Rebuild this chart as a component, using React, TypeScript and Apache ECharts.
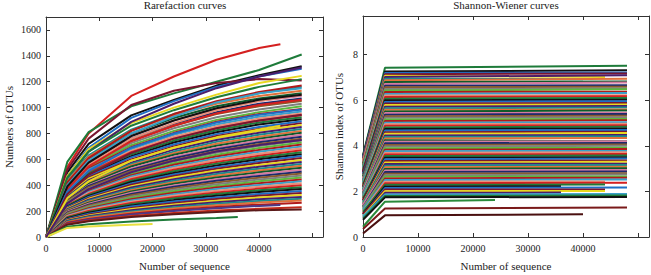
import React, { useEffect, useRef } from 'react';
import * as echarts from 'echarts';

// Rarefaction: sample depths of the grid; each curve = [last depth, values at grid depths (< last) + last depth]
const rareGridX = [0, 4000, 8000, 16000, 24000, 32000, 40000, 48000];
const rareCurves: [number, number[]][] = [
  [44000, [0, 540, 800, 1090, 1240, 1370, 1460, 1490]],
  [48000, [0, 580, 810, 1010, 1110, 1200, 1290, 1410]],
  [48000, [0, 500, 720, 940, 1060, 1170, 1250, 1320]],
  [48000, [0, 470, 690, 920, 1050, 1160, 1240, 1300]],
  [48000, [0, 520, 760, 1020, 1130, 1190, 1220, 1210]],
  [48000, [0, 470, 680, 880, 1000, 1100, 1190, 1245]],
  [48000, [0, 450, 660, 890, 1030, 1150, 1240, 1310]],
  [48000, [0, 440, 630, 830, 950, 1040, 1110, 1160]],
  [48000, [0, 430, 620, 820, 940, 1030, 1090, 1130]],
  [48000, [0, 420, 600, 800, 920, 1010, 1070, 1110]],
  [48000, [0, 410, 590, 780, 900, 990, 1050, 1090]],
  [48000, [0, 400, 575, 760, 875, 965, 1030, 1070]],
  [48000, [0, 395, 565, 745, 860, 950, 1010, 1050]],
  [48000, [0, 385, 550, 725, 840, 925, 985, 1030]],
  [48000, [0, 380, 540, 710, 820, 905, 965, 1010]],
  [48000, [0, 370, 530, 695, 805, 890, 950, 990]],
  [48000, [0, 360, 520, 680, 790, 870, 930, 970]],
  [48000, [0, 355, 510, 665, 775, 855, 915, 955]],
  [48000, [0, 350, 500, 655, 760, 840, 900, 940]],
  [48000, [0, 345, 490, 640, 745, 825, 885, 925]],
  [48000, [0, 335, 480, 625, 730, 810, 870, 910]],
  [48000, [0, 330, 470, 615, 715, 795, 850, 895]],
  [48000, [0, 325, 460, 600, 700, 780, 835, 880]],
  [48000, [0, 320, 450, 590, 690, 765, 820, 865]],
  [48000, [0, 310, 440, 575, 675, 750, 805, 850]],
  [48000, [0, 305, 430, 565, 660, 735, 790, 835]],
  [48000, [0, 300, 420, 555, 648, 720, 775, 820]],
  [48000, [0, 295, 410, 545, 635, 705, 760, 805]],
  [48000, [0, 290, 400, 530, 620, 690, 745, 790]],
  [48000, [0, 285, 395, 520, 608, 678, 732, 775]],
  [48000, [0, 280, 385, 510, 595, 665, 718, 760]],
  [48000, [0, 270, 375, 500, 583, 650, 703, 745]],
  [48000, [0, 265, 365, 488, 570, 636, 688, 730]],
  [48000, [0, 260, 355, 478, 558, 622, 673, 715]],
  [48000, [0, 255, 348, 468, 545, 608, 658, 700]],
  [48000, [0, 250, 340, 456, 533, 595, 644, 685]],
  [48000, [0, 245, 332, 446, 520, 580, 628, 670]],
  [48000, [0, 240, 325, 435, 508, 567, 614, 655]],
  [48000, [0, 235, 318, 425, 495, 553, 600, 640]],
  [48000, [0, 230, 310, 414, 483, 540, 585, 625]],
  [48000, [0, 225, 302, 404, 471, 527, 571, 610]],
  [48000, [0, 220, 295, 393, 459, 513, 557, 595]],
  [48000, [0, 215, 288, 383, 447, 500, 543, 580]],
  [48000, [0, 210, 280, 372, 435, 487, 528, 565]],
  [48000, [0, 205, 272, 362, 423, 473, 514, 550]],
  [48000, [0, 200, 265, 352, 411, 460, 500, 535]],
  [48000, [0, 195, 258, 342, 399, 447, 486, 520]],
  [48000, [0, 190, 250, 332, 388, 434, 472, 505]],
  [48000, [0, 185, 243, 322, 376, 421, 458, 490]],
  [48000, [0, 180, 236, 312, 365, 408, 444, 475]],
  [48000, [0, 175, 229, 302, 353, 395, 430, 460]],
  [48000, [0, 170, 222, 292, 342, 383, 416, 445]],
  [48000, [0, 165, 215, 283, 331, 370, 402, 430]],
  [48000, [0, 160, 208, 273, 319, 357, 388, 415]],
  [48000, [0, 155, 201, 263, 308, 344, 374, 400]],
  [48000, [0, 150, 194, 254, 297, 332, 361, 385]],
  [48000, [0, 145, 187, 244, 285, 319, 347, 370]],
  [48000, [0, 140, 180, 235, 274, 306, 333, 355]],
  [48000, [0, 135, 173, 225, 263, 294, 319, 340]],
  [48000, [0, 130, 166, 216, 252, 281, 305, 325]],
  [48000, [0, 125, 160, 207, 241, 269, 292, 310]],
  [48000, [0, 120, 154, 198, 230, 257, 278, 295]],
  [48000, [0, 115, 148, 190, 220, 246, 266, 282]],
  [48000, [0, 110, 140, 180, 208, 232, 250, 265]],
  [44000, [0, 105, 136, 174, 200, 222, 240, 248]],
  [48000, [0, 100, 128, 162, 185, 204, 218, 230]],
  [48000, [0, 95, 122, 154, 176, 194, 207, 212]],
  [36000, [0, 80, 98, 120, 135, 147, 155]],
  [20000, [0, 70, 82, 95, 100]],
  [48000, [0, 420, 610, 820, 950, 1050, 1120, 1170]],
  [48000, [0, 400, 590, 800, 930, 1040, 1110, 1150]],
  [48000, [0, 380, 560, 760, 880, 980, 1050, 1100]],
  [48000, [0, 370, 545, 740, 860, 955, 1020, 1060]],
  [48000, [0, 460, 660, 860, 980, 1080, 1160, 1220]],
  [48000, [0, 390, 575, 780, 900, 995, 1060, 1100]],
  [48000, [0, 350, 510, 690, 800, 885, 945, 985]],
  [48000, [0, 330, 480, 650, 760, 840, 900, 945]],
  [44000, [0, 300, 430, 590, 690, 770, 830, 860]],
  [48000, [0, 260, 370, 500, 590, 660, 710, 750]],
];

// Shannon-Wiener: [index at 0, index at 4000, index at last depth, last depth]
const swCurves: [number, number, number, number][] = [
  [3.60, 7.43, 7.52, 48000], [3.55, 7.26, 7.32, 48000], [3.50, 7.20, 7.22, 48000],
  [3.45, 7.14, 7.18, 48000], [3.40, 7.08, 7.02, 44000], [3.45, 7.02, 7.10, 48000],
  [3.30, 6.95, 6.92, 40000], [3.35, 6.88, 6.95, 48000], [3.25, 6.80, 6.82, 48000],
  [3.30, 6.72, 6.78, 48000], [3.15, 6.64, 6.66, 48000], [3.20, 6.57, 6.60, 48000],
  [3.05, 6.50, 6.52, 48000], [3.10, 6.43, 6.48, 48000], [3.00, 6.36, 6.38, 48000],
  [3.05, 6.28, 6.32, 48000], [2.95, 6.21, 6.22, 48000], [2.90, 6.14, 6.18, 48000],
  [2.95, 6.07, 6.10, 48000], [2.85, 6.00, 6.02, 48000], [2.80, 5.93, 5.96, 48000],
  [2.85, 5.86, 5.88, 48000], [2.70, 5.79, 5.82, 48000], [2.75, 5.72, 5.75, 48000],
  [2.65, 5.65, 5.68, 48000], [2.60, 5.58, 5.60, 48000], [2.65, 5.51, 5.55, 48000],
  [2.55, 5.44, 5.45, 48000], [2.50, 5.37, 5.40, 48000], [2.45, 5.30, 5.32, 48000],
  [2.50, 5.23, 5.25, 48000], [2.40, 5.16, 5.18, 48000], [2.35, 5.09, 5.12, 48000],
  [2.40, 5.02, 5.04, 48000], [2.30, 4.95, 4.97, 48000], [2.25, 4.88, 4.90, 48000],
  [2.30, 4.81, 4.84, 48000], [2.20, 4.74, 4.76, 48000], [2.15, 4.67, 4.70, 48000],
  [2.20, 4.60, 4.62, 48000], [2.10, 4.53, 4.56, 48000], [2.05, 4.46, 4.48, 48000],
  [2.10, 4.39, 4.42, 48000], [2.00, 4.32, 4.34, 48000], [1.95, 4.25, 4.20, 48000],
  [2.00, 4.18, 4.20, 48000], [1.90, 4.11, 4.13, 48000], [1.85, 4.04, 4.06, 48000],
  [1.90, 3.97, 4.00, 48000], [1.80, 3.90, 3.92, 48000], [1.75, 3.83, 3.86, 48000],
  [1.80, 3.76, 3.78, 48000], [1.70, 3.69, 3.72, 48000], [1.65, 3.62, 3.64, 48000],
  [1.70, 3.55, 3.58, 48000], [1.60, 3.48, 3.50, 48000], [1.55, 3.41, 3.44, 48000],
  [1.60, 3.34, 3.36, 48000], [1.50, 3.27, 3.30, 48000], [1.45, 3.20, 3.22, 48000],
  [1.50, 3.13, 3.16, 48000], [1.40, 3.06, 3.08, 48000], [1.35, 2.99, 3.02, 48000],
  [1.40, 2.92, 2.94, 48000], [1.30, 2.85, 2.88, 48000], [1.25, 2.78, 2.80, 48000],
  [1.30, 2.71, 2.74, 48000], [1.20, 2.64, 2.66, 48000], [1.15, 2.57, 2.60, 48000],
  [1.20, 2.50, 2.52, 48000], [1.10, 2.43, 2.44, 44000], [1.05, 2.36, 2.38, 48000],
  [1.10, 2.29, 2.30, 44000], [1.00, 2.22, 2.23, 36000], [0.95, 2.15, 2.17, 48000],
  [1.00, 2.08, 2.08, 44000], [0.90, 2.01, 2.02, 44000], [0.85, 1.94, 1.95, 36000],
  [0.90, 1.87, 1.89, 48000], [0.80, 1.80, 1.82, 48000], [0.75, 1.74, 1.76, 48000],
  [0.45, 1.55, 1.62, 24000], [0.35, 1.25, 1.30, 48000], [0.15, 0.95, 1.00, 40000],
];
const swFirstDepth = 4000;

// styling
const palette = [
  '#d42020', '#1e7b3a', '#111111', '#1f6fc4', '#7a1630', '#e8d820',
  '#4b1d6b', '#1a8c8c', '#e0703a', '#0f5a2a', '#d67aa0', '#1c2a6e',
  '#8a5a2b', '#7f7f7f', '#5cb83c', '#b01a1a', '#3aa0c8', '#e8907a',
];
const rareColorOverride: Record<number, string> = {
  63: '#b01a1a', 64: '#4b3a8a', 65: '#c02a1a', 66: '#5a1a1a', 67: '#1e7b3a', 68: '#e8e040',
};
const swColorOverride: Record<number, string> = {
  78: '#3aa0c8', 79: '#1e7b3a', 80: '#111111', 81: '#2a8a3a', 82: '#7a1a1a', 83: '#4a1010',
};

const FONT = '"Liberation Serif", "DejaVu Serif", serif';
const TXT = '#222';
const LINE = '#333';

function rareData(c: [number, number[]]) {
  const [end, ys] = c;
  const xs = rareGridX.filter((x) => x < end).concat(end);
  return ys.map((y, k) => [xs[k], y]);
}

function swData(c: [number, number, number, number]) {
  return [[0, c[0]], [swFirstDepth, c[1]], [c[3], c[2]]];
}

function axisPair(gridIndex: number, isX: boolean, min: number, max: number, interval: number, name: string, nameGap: number) {
  const fmt = (v: number) => (Math.abs(v / interval - Math.round(v / interval)) < 1e-6 && v <= max - interval * 0.3 + 1e-9 ? String(v) : '');
  const common = {
    gridIndex, type: 'value', min, max, interval,
    splitLine: { show: false },
    axisLine: { show: true, onZero: false, lineStyle: { color: LINE, width: 1 } },
    axisTick: { show: true, inside: true, length: 4, lineStyle: { color: LINE, width: 1 } },
  };
  return [
    {
      ...common,
      position: isX ? 'bottom' : 'left',
      name, nameLocation: 'middle', nameGap,
      nameTextStyle: { fontFamily: FONT, fontSize: 11, color: TXT },
      axisLabel: { show: true, fontFamily: FONT, fontSize: 10, color: TXT, margin: isX ? 6 : 5, formatter: fmt },
    },
    {
      ...common,
      position: isX ? 'top' : 'right',
      axisLabel: { show: false },
    },
  ];
}

export default function App() {
  const ref = useRef<HTMLDivElement>(null);
  useEffect(() => {
    if (!ref.current) return;
    const chart = echarts.init(ref.current, undefined, { renderer: 'svg' });
    const series: any[] = [];
    rareCurves.forEach((c, i) => {
      series.push({
        type: 'line', xAxisIndex: 0, yAxisIndex: 0, data: rareData(c),
        symbol: 'none', showSymbol: false, silent: true,
        lineStyle: { width: 2, color: rareColorOverride[i] || palette[i % palette.length] },
      });
    });
    swCurves.forEach((c, i) => {
      series.push({
        type: 'line', xAxisIndex: 2, yAxisIndex: 2, data: swData(c),
        symbol: 'none', showSymbol: false, silent: true,
        lineStyle: { width: 2, color: swColorOverride[i] || palette[(i + 1) % palette.length] },
      });
    });
    chart.setOption({
      animation: false,
      backgroundColor: '#fff',
      grid: [
        { left: 46, top: 17, width: 277, height: 220, containLabel: false, outerBoundsMode: 'none' },
        { left: 363, top: 16, width: 286, height: 221, containLabel: false, outerBoundsMode: 'none' },
      ],
      xAxis: [
        ...axisPair(0, true, 0, 52000, 10000, 'Number of sequence', 23),
        ...axisPair(1, true, 0, 52000, 10000, 'Number of sequence', 23),
      ],
      yAxis: [
        ...axisPair(0, false, 0, 1700, 200, 'Numbers of OTUs', 32),
        ...axisPair(1, false, 0, 9.7, 2, 'Shannon index of OTUs', 19),
      ],
      graphic: [
        { type: 'text', x: 185, y: 5, style: { text: 'Rarefaction curves', fontFamily: FONT, fontSize: 11, fill: TXT, align: 'center', verticalAlign: 'middle' } },
        { type: 'text', x: 506, y: 5, style: { text: 'Shannon-Wiener curves', fontFamily: FONT, fontSize: 11, fill: TXT, align: 'center', verticalAlign: 'middle' } },
      ],
      series,
    });
    return () => chart.dispose();
  }, []);
  return <div ref={ref} style={{ position: 'fixed', left: 0, top: 0, width: 651, height: 275 }} />;
}
